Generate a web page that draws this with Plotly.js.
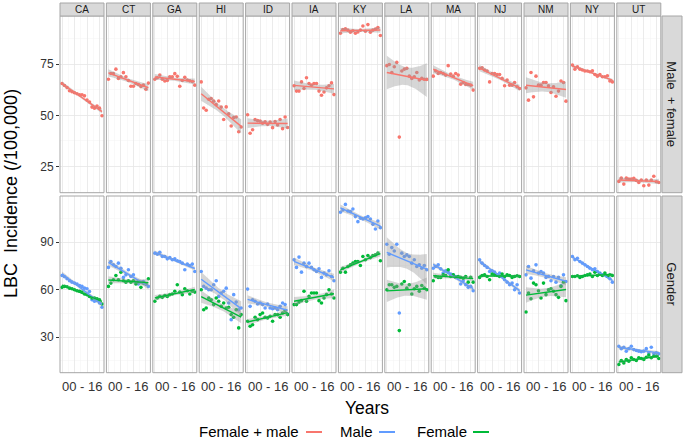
<!DOCTYPE html>
<html>
<head>
<meta charset="utf-8">
<script src="https://cdn.plot.ly/plotly-3.0.1.min.js"></script>
<style>html,body{margin:0;padding:0;background:#fff;}#chart{width:685px;height:439px;}</style>
</head>
<body>
<div id="chart"></div>
<script>
// ---------- DATA ----------
const years = [2000,2001,2002,2003,2004,2005,2006,2007,2008,2009,2010,2011,2012,2013,2014,2015,2016];
const states = ['CA','CT','GA','HI','ID','IA','KY','LA','MA','NJ','NM','NY','UT'];
const xTickLabel = '00 - 16';
const rowLabels = ['Male\u00A0 + female', 'Gender'];
const seriesNames = ['Female + male', 'Male', 'Female'];

// Female + male (top row), one array per state, in the order of `states`
const bothRate = [
  [65.5,64.5,63.5,62.0,61.5,61.0,60.5,60.0,60.0,59.5,57.5,56.5,54.0,53.5,54.5,53.5,49.8],
  [67.6,70.4,70.3,72.5,68.0,68.8,70.8,68.8,67.0,64.2,64.2,65.5,65.0,64.0,64.7,62.7,65.7],
  [67.6,68.3,69.6,67.6,66.7,67.0,68.8,68.8,70.3,69.0,64.2,67.0,68.5,67.2,66.8,66.5,64.7],
  [66.3,53.6,52.5,57.8,58.2,56.9,55.2,57.0,54.0,48.0,54.1,50.7,44.8,48.9,49.2,42.0,44.3],
  [50.3,41.3,43.0,47.9,47.4,47.2,46.2,46.9,45.6,46.7,44.0,47.0,45.3,48.0,43.5,49.2,44.1],
  [64.4,61.8,61.8,66.3,63.1,68.3,65.5,64.7,65.5,65.5,61.8,59.8,61.4,63.4,64.4,65.8,60.1],
  [90.0,91.8,92.2,91.5,90.5,91.2,90.0,90.6,91.5,93.5,91.0,94.2,90.5,91.5,92.0,92.8,88.9],
  [74.2,74.8,70.9,73.7,75.8,39.4,71.6,72.5,72.9,69.1,68.0,68.8,70.9,67.2,68.0,67.6,67.5],
  [69.1,71.6,70.4,70.9,70.4,69.6,74.2,70.1,69.1,70.4,69.6,65.2,66.0,65.0,65.0,64.7,62.3],
  [72.9,73.2,72.1,71.6,66.3,70.4,70.4,69.9,69.9,68.0,64.4,67.2,64.7,64.7,66.0,63.9,63.1],
  [63.4,57.4,70.9,59.0,69.1,64.7,64.7,66.0,66.0,64.4,61.1,63.9,59.3,61.8,66.7,66.0,56.9],
  [74.5,72.5,73.7,72.5,72.1,71.6,71.6,71.2,71.7,69.9,69.1,69.9,68.8,68.8,69.3,66.7,66.3],
  [17.8,19.4,16.5,19.4,19.0,19.0,19.3,18.3,17.3,18.5,15.7,18.5,16.0,18.5,20.3,17.6,17.3]
];
// Male (bottom row)
const maleRate = [
  [69.0,68.2,66.9,65.7,64.8,64.2,63.6,62.7,62.1,61.0,60.6,58.9,53.7,52.7,53.1,51.6,48.9],
  [74.1,77.8,75.7,74.7,76.8,73.6,67.8,69.4,72.6,68.4,69.4,64.8,63.6,64.8,65.2,63.6,62.1],
  [83.1,82.4,83.7,81.0,81.0,79.5,80.3,78.9,79.5,78.3,77.8,76.8,72.6,76.2,75.3,76.2,71.5],
  [71.5,62.1,61.0,60.0,60.0,63.1,65.7,55.8,57.9,59.0,61.0,51.6,41.1,56.9,52.2,47.4,48.5],
  [60.4,49.5,53.7,52.7,51.0,51.6,50.6,48.5,51.0,48.5,48.0,48.5,47.4,49.5,51.6,50.6,44.7],
  [78.9,74.1,80.6,71.1,76.8,74.7,76.8,74.1,72.6,71.5,73.2,67.8,70.5,69.4,72.0,68.4,65.7],
  [108.9,110.4,113.9,109.7,109.3,111.0,106.2,103.0,105.1,104.7,105.5,106.2,104.7,101.3,98.4,103.4,99.2],
  [88.7,82.4,86.6,84.5,88.7,45.3,83.1,81.0,82.0,81.0,76.8,78.9,74.7,75.7,73.6,75.3,72.6],
  [73.6,74.7,75.7,73.2,70.5,72.0,71.1,69.9,69.4,68.4,67.8,63.6,65.7,63.1,61.5,62.1,59.4],
  [78.9,76.8,75.3,74.1,71.5,72.0,71.1,69.4,70.5,68.4,66.3,64.8,63.1,64.2,60.0,63.1,57.9],
  [69.4,74.7,67.3,72.0,75.7,70.5,71.5,70.5,67.8,68.4,65.7,68.4,64.8,67.8,62.7,69.4,65.2],
  [81.0,78.9,79.9,77.8,76.8,75.7,74.7,73.6,72.6,73.2,71.5,70.5,69.4,69.9,68.4,66.9,64.8],
  [24.3,22.8,23.7,21.2,22.8,24.3,22.2,21.6,21.2,20.8,21.2,22.8,20.1,23.7,19.5,20.1,19.5]
];
// Female (bottom row)
const femaleRate = [
  [61.5,62.1,61.9,61.0,60.6,60.0,59.4,59.0,58.5,57.3,56.9,55.8,54.8,54.8,54.3,53.7,51.0],
  [62.1,64.2,66.3,69.0,66.3,71.1,65.7,64.8,65.7,64.8,65.7,63.6,65.2,61.5,64.2,63.6,66.9],
  [52.7,54.8,55.8,55.2,56.4,55.8,56.9,57.3,59.0,63.1,58.5,56.9,60.6,59.4,57.3,59.0,58.5],
  [60.0,47.4,48.5,54.8,53.7,50.6,54.8,52.7,49.5,51.6,48.5,48.9,44.3,42.6,47.4,35.9,44.3],
  [40.1,36.9,37.9,42.6,41.1,44.3,45.3,42.6,42.2,43.2,40.1,44.3,44.3,42.6,45.3,46.8,44.3],
  [50.6,50.6,52.2,53.1,59.0,52.7,55.8,57.9,57.9,57.9,53.1,51.6,54.8,56.9,60.0,57.3,54.8],
  [71.1,73.6,71.1,74.7,75.7,76.8,77.8,77.8,75.3,81.0,78.9,81.6,80.3,81.6,82.0,83.1,78.3],
  [60.0,63.1,63.1,61.5,62.1,34.2,63.6,65.2,61.0,63.1,57.3,60.6,62.1,59.0,62.7,61.0,60.0],
  [65.7,68.4,67.8,67.8,69.4,69.0,72.6,68.4,69.4,67.8,68.4,67.8,67.3,68.4,64.8,67.8,64.8],
  [67.8,69.0,69.4,68.4,66.3,69.9,69.4,69.0,68.4,69.9,68.4,69.4,69.0,67.8,68.4,68.8,68.4],
  [45.9,57.9,54.3,64.2,63.1,59.4,54.8,64.2,56.9,60.0,60.6,59.0,56.9,55.2,62.1,64.8,53.1],
  [68.4,68.4,68.8,67.8,68.4,69.0,69.4,69.9,68.4,71.1,69.0,69.9,69.0,70.5,68.4,69.4,69.0],
  [12.8,15.3,13.8,15.9,14.9,17.0,15.9,15.3,17.0,16.6,15.9,17.4,18.7,17.0,18.0,18.0,16.6]
];

// ---------- STYLE / GEOMETRY ----------
const W = 685, H = 439;
const FONT = 'Liberation Sans, Arial, Helvetica, sans-serif';
const COLORS = ['#F8766D', '#619CFF', '#00BA38'];
const px = v => v / W;
const py = v => 1 - v / H;
const panelLeft = i => 60 + 46.4 * i;
const panelW = 44;
const rowTop = [16, 196], rowBot = [192.7, 372.7];
const stripTop = 3;
const rightStrip = [662, 682];
const borderCol = '#a6a6a6';

// linear fit + 95% confidence band (as geom_smooth(method='lm'))
function lmBand(xs, ys) {
  const n = xs.length;
  const xm = xs.reduce((a, b) => a + b, 0) / n;
  const ym = ys.reduce((a, b) => a + b, 0) / n;
  let sxx = 0, sxy = 0;
  for (let k = 0; k < n; k++) { sxx += (xs[k] - xm) ** 2; sxy += (xs[k] - xm) * (ys[k] - ym); }
  const b = sxy / sxx, a = ym - b * xm;
  let sse = 0;
  for (let k = 0; k < n; k++) sse += (ys[k] - (a + b * xs[k])) ** 2;
  const s = Math.sqrt(sse / (n - 2));
  const t = 2.131;
  const gx = [], fit = [], up = [], lo = [];
  const x0 = xs[0], x1 = xs[n - 1], steps = 60;
  for (let j = 0; j <= steps; j++) {
    const x = x0 + (x1 - x0) * j / steps;
    const f = a + b * x;
    const se = s * Math.sqrt(1 / n + (x - xm) ** 2 / sxx);
    gx.push(x); fit.push(f); up.push(f + t * se); lo.push(f - t * se);
  }
  return { gx, fit, up, lo };
}

const traces = [];
function addSeries(xa, ya, vals, color) {
  traces.push({ type: 'scatter', mode: 'markers', x: years, y: vals, xaxis: xa, yaxis: ya,
    marker: { color: color, size: 3.6 }, hoverinfo: 'skip', showlegend: false, cliponaxis: true });
}
function addSmooth(xa, ya, vals, color) {
  const r = lmBand(years, vals);
  traces.push({ type: 'scatter', mode: 'lines', x: r.gx.concat(r.gx.slice().reverse()),
    y: r.up.concat(r.lo.slice().reverse()), xaxis: xa, yaxis: ya, fill: 'toself',
    fillcolor: 'rgba(153,153,153,0.4)', line: { width: 0 }, hoverinfo: 'skip', showlegend: false });
  traces.push({ type: 'scatter', mode: 'lines', x: r.gx, y: r.fit, xaxis: xa, yaxis: ya,
    line: { color: color, width: 1.4 }, hoverinfo: 'skip', showlegend: false });
}

states.forEach((st, i) => {
  const xa = i === 0 ? 'x' : 'x' + (i + 1);
  addSeries(xa, 'y', bothRate[i], COLORS[0]);
  addSmooth(xa, 'y', bothRate[i], COLORS[0]);
  addSeries(xa, 'y2', maleRate[i], COLORS[1]);
  addSeries(xa, 'y2', femaleRate[i], COLORS[2]);
  addSmooth(xa, 'y2', maleRate[i], COLORS[1]);
  addSmooth(xa, 'y2', femaleRate[i], COLORS[2]);
});

const layout = {
  width: W, height: H,
  margin: { l: 0, r: 0, t: 0, b: 0 },
  paper_bgcolor: '#ffffff', plot_bgcolor: '#ffffff',
  showlegend: false,
  font: { family: FONT, color: '#1a1a1a' },
  shapes: [], annotations: []
};

const gridMajor = '#e6e6e6', gridMinor = '#f3f3f3';
states.forEach((st, i) => {
  const key = i === 0 ? 'xaxis' : 'xaxis' + (i + 1);
  layout[key] = {
    domain: [px(panelLeft(i)), px(panelLeft(i) + panelW)],
    range: [1999.2, 2016.8], anchor: 'y2',
    showticklabels: false, ticks: '', tick0: 2000, dtick: 5,
    showgrid: true, gridcolor: gridMajor, gridwidth: 0.8,
    minor: { tick0: 2000, dtick: 2.5, showgrid: true, gridcolor: gridMinor, gridwidth: 0.5 },
    zeroline: false, showline: false, fixedrange: true
  };
});
const yCommon = {
  anchor: 'x', tick0: 0, ticks: 'outside', ticklen: 3, tickcolor: '#333333', tickwidth: 1,
  tickfont: { size: 12, color: '#333333', family: FONT },
  showgrid: true, gridcolor: gridMajor, gridwidth: 0.8,
  zeroline: false, showline: false, fixedrange: true
};
layout.yaxis = Object.assign({}, yCommon, {
  domain: [py(rowBot[0]), py(rowTop[0])], range: [12.3, 98.4], dtick: 25,
  minor: { dtick: 12.5, showgrid: true, gridcolor: gridMinor, gridwidth: 0.5 }
});
layout.yaxis2 = Object.assign({}, yCommon, {
  domain: [py(rowBot[1]), py(rowTop[1])], range: [7.6, 119.2], dtick: 30,
  minor: { dtick: 15, showgrid: true, gridcolor: gridMinor, gridwidth: 0.5 }
});

// panel borders, top strips, labels
states.forEach((st, i) => {
  const L = panelLeft(i), R = L + panelW;
  for (let r = 0; r < 2; r++) {
    layout.shapes.push({ type: 'rect', xref: 'paper', yref: 'paper',
      x0: px(L), x1: px(R), y0: py(rowBot[r]), y1: py(rowTop[r]),
      line: { color: borderCol, width: 1 }, fillcolor: 'rgba(0,0,0,0)', layer: 'above' });
  }
  layout.shapes.push({ type: 'rect', xref: 'paper', yref: 'paper',
    x0: px(L), x1: px(R), y0: py(rowTop[0]), y1: py(stripTop),
    line: { color: borderCol, width: 1 }, fillcolor: '#d9d9d9', layer: 'above' });
  layout.annotations.push({ xref: 'paper', yref: 'paper', x: px((L + R) / 2), y: py((stripTop + rowTop[0]) / 2),
    text: st, showarrow: false, xanchor: 'center', yanchor: 'middle',
    font: { size: 10, color: '#1a1a1a', family: FONT } });
  layout.annotations.push({ xref: 'paper', yref: 'paper', x: px((L + R) / 2), y: py(386),
    text: xTickLabel, showarrow: false, xanchor: 'center', yanchor: 'middle',
    font: { size: 13, color: '#333333', family: FONT } });
});
// right strips
for (let r = 0; r < 2; r++) {
  layout.shapes.push({ type: 'rect', xref: 'paper', yref: 'paper',
    x0: px(rightStrip[0]), x1: px(rightStrip[1]), y0: py(rowBot[r]), y1: py(rowTop[r]),
    line: { color: borderCol, width: 1 }, fillcolor: '#d9d9d9', layer: 'above' });
  layout.annotations.push({ xref: 'paper', yref: 'paper',
    x: px((rightStrip[0] + rightStrip[1]) / 2), y: py((rowTop[r] + rowBot[r]) / 2),
    text: rowLabels[r], textangle: 90, showarrow: false, xanchor: 'center', yanchor: 'middle',
    font: { size: 13, color: '#1a1a1a', family: FONT } });
}
// axis titles
layout.annotations.push({ xref: 'paper', yref: 'paper', x: px(11), y: py(194),
  text: 'LBC\u00A0 Incidence (/100,000)', textangle: -90, showarrow: false,
  xanchor: 'center', yanchor: 'middle', font: { size: 18, color: '#000000', family: FONT } });
layout.annotations.push({ xref: 'paper', yref: 'paper', x: px(367), y: py(408),
  text: 'Years', showarrow: false, xanchor: 'center', yanchor: 'middle',
  font: { size: 17.5, color: '#000000', family: FONT } });
// legend (text followed by coloured line)
const legItems = [
  { textRight: 301, line: [306, 322] },
  { textRight: 375, line: [379, 395] },
  { textRight: 469, line: [473, 489] }
];
legItems.forEach((it, k) => {
  layout.annotations.push({ xref: 'paper', yref: 'paper', x: px(it.textRight), y: py(431.5),
    text: seriesNames[k], showarrow: false, xanchor: 'right', yanchor: 'middle',
    font: { size: 15, color: '#000000', family: FONT } });
  layout.shapes.push({ type: 'line', xref: 'paper', yref: 'paper',
    x0: px(it.line[0]), x1: px(it.line[1]), y0: py(432), y1: py(432),
    line: { color: COLORS[k], width: 2 } });
});

Plotly.newPlot('chart', traces, layout, { staticPlot: true, displayModeBar: false });
</script>
</body>
</html>
